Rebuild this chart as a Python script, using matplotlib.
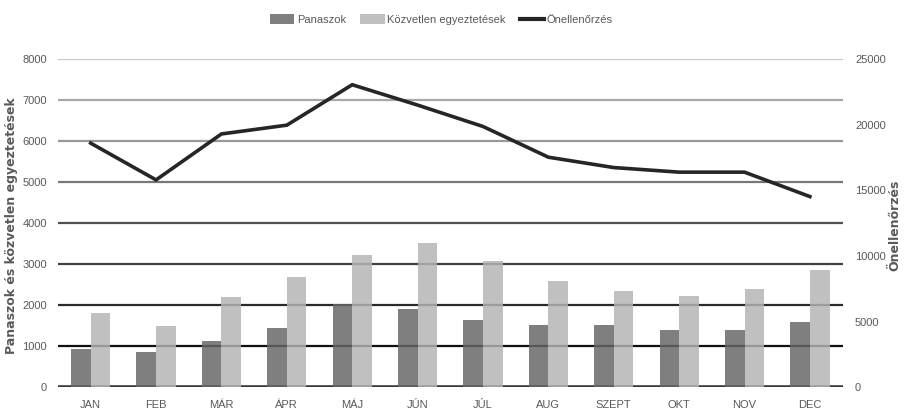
import matplotlib
matplotlib.use("Agg")
import matplotlib.pyplot as plt
from matplotlib import font_manager
import numpy as np
from matplotlib.patches import Patch
from matplotlib.lines import Line2D

months = ["JAN", "FEB", "MÁR", "ÁPR", "MÁJ", "JÚN", "JÚL", "AUG", "SZEPT", "OKT", "NOV", "DEC"]
panaszok = [930, 870, 1125, 1435, 2030, 1910, 1640, 1515, 1515, 1385, 1385, 1580]
kozvetlen = [1820, 1495, 2210, 2680, 3220, 3515, 3090, 2600, 2345, 2225, 2405, 2855]
onellenorzes = [18600, 15800, 19300, 19970, 23050, 21500, 19870, 17530, 16740, 16390, 16390, 14530]
left_ticks = [0, 1000, 2000, 3000, 4000, 5000, 6000, 7000, 8000]
right_ticks = [0, 5000, 10000, 15000, 20000, 25000]

names = {f.name for f in font_manager.fontManager.ttflist}
narrow = 'Liberation Sans Narrow' in names
base_font = 'Liberation Sans Narrow' if narrow else 'Liberation Sans'
fs = 9 if narrow else 8
plt.rcParams['font.family'] = [base_font, 'DejaVu Sans']
txt = '#595959'

fig = plt.figure(figsize=(9.06, 4.17), dpi=100)
ax = fig.add_axes([0.064, 0.0712, 0.866, 0.787])
ax2 = ax.twinx()

x = np.arange(len(months))
w = 0.30
ax.bar(x - w / 2, panaszok, w, color='#666666', alpha=0.835, zorder=3)
ax.bar(x + w / 2, kozvetlen, w, color='#b4b4b4', alpha=0.835, zorder=3)

grid_colors = ['#3a3a3a', '#101010', '#2a2a2a', '#404040', '#505050', '#787878', '#989898', '#a8a8a8', '#c8c8c8']
for v, c in zip(left_ticks, grid_colors):
    ax.axhline(v, color=c, lw=2.6 if v == 0 else 1.6, zorder=1)

ax.set_xlim(-0.5, len(months) - 0.5)
ax.set_ylim(0, 8000)
ax.set_yticks(left_ticks)
ax.set_xticks(x)
ax.set_xticklabels(months)
for a in (ax, ax2):
    for s in a.spines.values():
        s.set_visible(False)
ax.tick_params(axis='both', length=0, colors=txt, labelsize=fs)
ax.tick_params(axis='y', pad=8)
ax.tick_params(axis='x', pad=9)

ax2.plot(x, onellenorzes, color='#262626', lw=2.6, solid_joinstyle='miter', zorder=4)
ax2.set_ylim(0, 25000)
ax2.set_yticks(right_ticks)
ax2.tick_params(axis='y', length=0, colors=txt, labelsize=fs, pad=9)

fig.text(0.013, 0.46, 'Panaszok és közvetlen egyeztetések', rotation=90, ha='center', va='center',
         color=txt, fontsize=9, fontweight='bold', family=['DejaVu Sans'])
fig.text(0.988, 0.46, 'Önellenőrzés', rotation=90, ha='center', va='center',
         color=txt, fontsize=9, fontweight='bold', family=['DejaVu Sans'])

handles = [Patch(facecolor='#666666', alpha=0.835), Patch(facecolor='#b4b4b4', alpha=0.835),
           Line2D([0], [0], color='#262626', lw=3)]
fig.legend(handles, ['Panaszok', 'Közvetlen egyeztetések', 'Önellenőrzés'], loc='center',
           bbox_to_anchor=(0.487, 0.953), ncol=3, frameon=False, fontsize=fs, labelcolor=txt,
           handlelength=2.2, handleheight=0.9, handletextpad=0.2, columnspacing=1.3)

fig.savefig('out.png', dpi=100)
